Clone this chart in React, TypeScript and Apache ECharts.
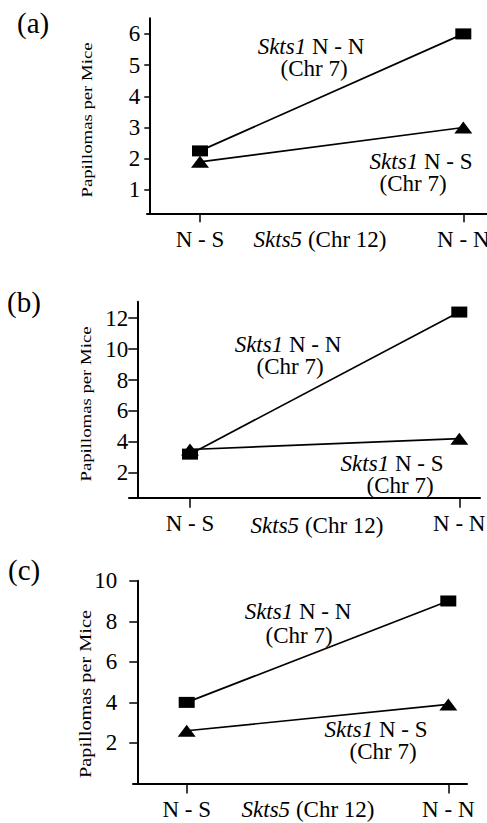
import React, { useEffect, useRef } from "react";
import * as echarts from "echarts";

// ---- data ----
const categories = ["N - S", "N - N"];
const panelLabels = ["(a)", "(b)", "(c)"];
const yTitle = "Papillomas per Mice";
const xTitle = "{i|Skts5}{n| (Chr 12)}";
const nnLine = "{i|Skts1}{n| N - N}";
const nsLine = "{i|Skts1}{n| N - S}";
const chrLine = "(Chr 7)";

const nnA = [2.25, 6.0];
const nsA = [1.9, 3.0];
const nnB = [3.2, 12.4];
const nsB = [3.5, 4.2];
const nnC = [4.0, 9.0];
const nsC = [2.6, 3.9];

const ticksA = [1, 2, 3, 4, 5, 6];
const ticksB = [2, 4, 6, 8, 10, 12];
const ticksC = [2, 4, 6, 8, 10];

const FONT = "Liberation Serif, Times New Roman, serif";

// ---- layout ----
// ann: [firstLine, x1, y1, x2, y2]
const panels = [
  {
    nn: nnA, ns: nsA, ticks: ticksA,
    left: 147, top: 18.3, width: 340, height: 195,
    xMin: -0.2013, xMax: 1.09, yMin: 0.25, yMax: 6.5,
    yOffset: -2.3, yTickLen: 5, yLabelMargin: 9, xTickLen: 9,
    label: [17, 22.5],
    yTitle: [87, 120, 15, 1.25],
    ann: [[nnLine, 311, 47.5, 314, 68], [nsLine, 421, 163.5, 413, 181]],
    xt: [320, 239.5],
  },
  {
    nn: nnB, ns: nsB, ticks: ticksB,
    left: 129, top: 301.7, width: 351, height: 196,
    xMin: -0.2265, xMax: 1.0769, yMin: 0.38, yMax: 13.07,
    yOffset: -8.3, yTickLen: 9, yLabelMargin: 9, xTickLen: 10,
    label: [7, 302],
    yTitle: [86, 404, 15, 1.25],
    ann: [[nnLine, 288, 345.5, 290, 365], [nsLine, 392, 465.5, 400, 483]],
    xt: [317, 525],
  },
  {
    nn: nnC, ns: nsC, ticks: ticksC,
    left: 133, top: 580.7, width: 334, height: 202.8,
    xMin: -0.2053, xMax: 1.0715, yMin: 0, yMax: 10,
    yOffset: -4.3, yTickLen: 8, yLabelMargin: 20, xTickLen: 10,
    label: [8, 570],
    yTitle: [86, 694, 16, 1.27],
    ann: [[nnLine, 298, 611.5, 299, 635], [nsLine, 376, 730.5, 383, 750]],
    xt: [308, 809],
  },
];

function rich(lh: number, dx: number) {
  const base = { fontFamily: FONT, fontSize: 23, lineHeight: lh, fill: "#000" };
  return {
    i: { ...base, fontStyle: "italic" },
    n: { ...base },
    c: { ...base, padding: dx >= 0 ? [0, 0, 0, 2 * dx] : [0, -2 * dx, 0, 0] },
  };
}

export default function App() {
  const ref = useRef<HTMLDivElement>(null);

  useEffect(() => {
    const chart = echarts.init(ref.current!, null, { renderer: "svg" });

    const graphic: any[] = [];
    panels.forEach((p, i) => {
      graphic.push({
        type: "text",
        x: p.label[0],
        y: p.label[1],
        style: {
          text: panelLabels[i],
          fontFamily: FONT,
          fontSize: 29,
          fill: "#000",
          align: "left",
          verticalAlign: "middle",
        },
      });
      graphic.push({
        type: "text",
        x: p.yTitle[0],
        y: p.yTitle[1],
        rotation: Math.PI / 2,
        scaleX: p.yTitle[3],
        style: {
          text: yTitle,
          fontFamily: FONT,
          fontSize: p.yTitle[2],
          fill: "#000",
          align: "center",
          verticalAlign: "middle",
        },
      });
      p.ann.forEach((a: any) => {
        const lh = Math.max(a[4] - a[2], 22);
        graphic.push({
          type: "text",
          x: a[1],
          y: (a[2] + a[4]) / 2,
          style: {
            text: a[0] + "\n{c|" + chrLine + "}",
            fontFamily: FONT,
            fontSize: 23,
            lineHeight: lh,
            fill: "#000",
            align: "center",
            verticalAlign: "middle",
            rich: rich(lh, a[3] - a[1]),
          },
        });
      });
      graphic.push({
        type: "text",
        x: p.xt[0],
        y: p.xt[1],
        style: {
          text: xTitle,
          fontFamily: FONT,
          fontSize: 23,
          fill: "#000",
          align: "center",
          verticalAlign: "middle",
          rich: rich(23, 0),
        },
      });
    });

    const series: any[] = [];
    panels.forEach((p, i) => {
      series.push({
        type: "line",
        xAxisIndex: i,
        yAxisIndex: i,
        data: categories.map((_, k) => [k, p.nn[k]]),
        symbol: "rect",
        symbolSize: [16, 11],
        itemStyle: { color: "#000" },
        lineStyle: { color: "#000", width: 1.7 },
        z: 3,
      });
      series.push({
        type: "line",
        xAxisIndex: i,
        yAxisIndex: i,
        data: categories.map((_, k) => [k, p.ns[k]]),
        symbol: "triangle",
        symbolSize: [18, 12],
        itemStyle: { color: "#000" },
        lineStyle: { color: "#000", width: 1.7 },
        z: 4,
      });
    });

    const option: any = {
      animation: false,
      backgroundColor: "#fff",
      textStyle: { fontFamily: FONT },
      grid: panels.map((p) => ({
        left: p.left,
        top: p.top,
        width: p.width,
        height: p.height,
        containLabel: false,
        outerBoundsMode: "none",
      })),
      xAxis: panels.map((p, i) => ({
        gridIndex: i,
        type: "value",
        min: p.xMin,
        max: p.xMax,
        axisLine: { show: true, onZero: false, lineStyle: { color: "#000", width: 2 } },
        axisTick: {
          show: true,
          customValues: [0, 1],
          length: p.xTickLen,
          lineStyle: { color: "#000", width: 1.5 },
        },
        axisLabel: {
          show: true,
          customValues: [0, 1],
          formatter: (v: number) => categories[Math.round(v)],
          margin: 26,
          verticalAlign: "middle",
          color: "#000",
          fontFamily: FONT,
          fontSize: 23,
        },
        splitLine: { show: false },
      })),
      yAxis: panels.map((p, i) => ({
        gridIndex: i,
        type: "value",
        min: p.yMin,
        max: p.yMax,
        offset: p.yOffset,
        axisLine: { show: true, onZero: false, lineStyle: { color: "#000", width: 2 } },
        axisTick: {
          show: true,
          customValues: p.ticks,
          length: p.yTickLen,
          lineStyle: { color: "#000", width: 1.5 },
        },
        axisLabel: {
          show: true,
          customValues: p.ticks,
          margin: p.yLabelMargin,
          color: "#000",
          fontFamily: FONT,
          fontSize: 23,
        },
        splitLine: { show: false },
      })),
      series,
      graphic,
    };

    chart.setOption(option);
    return () => chart.dispose();
  }, []);

  return (
    <div
      ref={ref}
      style={{ position: "fixed", left: 0, top: 0, width: 487, height: 823, background: "#fff" }}
    />
  );
}
